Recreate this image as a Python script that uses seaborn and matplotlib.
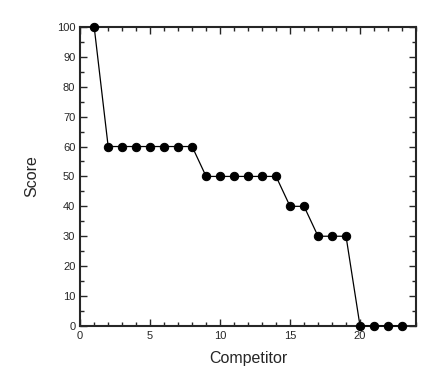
import matplotlib
matplotlib.use("Agg")
import matplotlib.pyplot as plt
import seaborn as sns
import pandas as pd
from matplotlib.ticker import MultipleLocator

competitor = list(range(1, 24))
score = [100, 60, 60, 60, 60, 60, 60, 60,
         50, 50, 50, 50, 50, 50,
         40, 40,
         30, 30, 30,
         0, 0, 0, 0]

data = pd.DataFrame({"Competitor": competitor, "Score": score})

sns.set_style("ticks")
plt.rcParams['font.family'] = ['Liberation Sans', 'DejaVu Sans']

fig = plt.figure(figsize=(4.43, 3.79), dpi=100)
ax = fig.add_axes([0.181, 0.14, 0.758, 0.789])

sns.lineplot(x="Competitor", y="Score", data=data, color="black", linewidth=0.9,
             marker="o", markersize=6, markeredgecolor="black", clip_on=False,
             zorder=5, ax=ax)

ax.set_xlim(0, 24)
ax.set_ylim(0, 100)
ax.xaxis.set_major_locator(MultipleLocator(5))
ax.xaxis.set_minor_locator(MultipleLocator(1))
ax.yaxis.set_major_locator(MultipleLocator(10))
ax.yaxis.set_minor_locator(MultipleLocator(5))
ax.tick_params(which="both", direction="in", top=True, right=True, labelsize=8, width=1)
ax.tick_params(which="major", length=5)
ax.tick_params(which="minor", length=3)
for s in ax.spines.values():
    s.set_linewidth(1.5)

ax.set_xlabel("Competitor", fontsize=11.5, labelpad=7)
ax.set_ylabel("Score", fontsize=11.5, labelpad=13)

fig.savefig("out.png", dpi=100)
